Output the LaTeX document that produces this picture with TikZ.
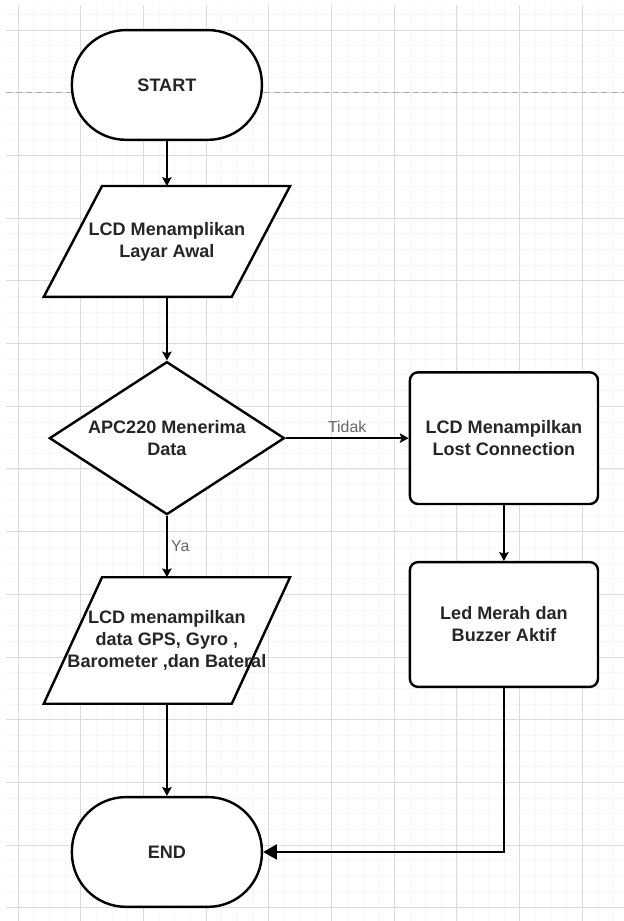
\documentclass[tikz,border=0pt]{standalone}
\usepackage{fontspec}
\setmainfont{Liberation Sans}
\usetikzlibrary{shapes.geometric,arrows.meta,backgrounds}

\newcommand\boxfont{\bfseries\fontsize{8.2}{10}\selectfont}

\tikzset{
  terminal/.style={draw, line width=1.1pt, fill=white, rounded corners=0.86cm,
    minimum width=3.03cm, minimum height=1.75cm, text=black!85, font=\boxfont},
  io/.style={minimum width=3.9cm, minimum height=#1, inner sep=0pt,
    align=center, text=black!85, font=\boxfont},
  decision/.style={draw, diamond, aspect=1.536, inner sep=0pt, line width=1.1pt,
    fill=white, minimum width=3.75cm, minimum height=2.44cm, align=center,
    text=black!85, font=\boxfont},
  process/.style={draw, rounded corners=0.13cm, line width=1.1pt, fill=white,
    minimum width=3cm, minimum height=#1, align=center, text=black!85, font=\boxfont},
  lbl/.style={text=black!60, font=\fontsize{7.2}{9}\selectfont},
  fl/.style={-{Stealth[length=1.4mm,width=1.5mm,inset=0.25mm]}}
}

\begin{document}
\begin{tikzpicture}[line width=0.8pt]
  \useasboundingbox (-0.287,0.478) rectangle (9.665,-14.211);
  % kertas berpetak
  \begin{scope}[on background layer]
    \draw[gray!6, line width=0.3pt, step=0.25] (-0.19,-14.211) grid (9.665,0.399);
    \draw[gray!28, line width=0.4pt, step=1] (-0.19,-14.211) grid (9.665,0.399);
    \draw[gray!65, line width=0.5pt, dash pattern=on 2.7pt off 1.8pt] (-0.19,-1) -- (9.665,-1);
  \end{scope}

  % kolom kiri
  \node[terminal] (start) at (2.375,-0.877) {START};
  \node[io=1.74cm] (lcdawal) at (2.375,-3.373) {LCD Menamplikan\\Layar Awal};
  \node[decision] (apc) at (2.375,-6.51) {APC220 Menerima\\Data};
  \node[io=1.99cm] (lcddata) at (2.375,-9.737) {LCD menampilkan\\data GPS, Gyro ,\\Barometer ,dan Bateral};
  \node[terminal] (finish) at (2.375,-13.11) {END};
  % kolom kanan
  \node[process=2.1cm] (lost) at (7.75,-6.51) {LCD Menampilkan\\Lost Connection};
  \node[process=1.99cm] (led) at (7.75,-9.482) {Led Merah dan\\Buzzer Aktif};

  % jajaran genjang input/output
  \begin{scope}[on background layer]
    \draw[line width=1.1pt, fill=white] (lcdawal.south west) -- ([xshift=-0.93cm]lcdawal.south east)
      -- (lcdawal.north east) -- ([xshift=0.93cm]lcdawal.north west) -- cycle;
    \draw[line width=1.1pt, fill=white] (lcddata.south west) -- ([xshift=-0.93cm]lcddata.south east)
      -- (lcddata.north east) -- ([xshift=0.93cm]lcddata.north west) -- cycle;
  \end{scope}

  % panah
  \draw[fl] (start) -- (lcdawal);
  \draw[fl] (lcdawal) -- (apc);
  \draw[fl] (apc) -- node[lbl, above, inner sep=2pt] {Tidak} (lost);
  \draw[fl] (apc) -- node[lbl, right, inner sep=1.5pt] {Ya} (lcddata);
  \draw[fl] (lost) -- (led);
  \draw[fl] (lcddata) -- (finish);
  \draw[-{Triangle[length=2.2mm,width=2.4mm]}] (led) |- (finish);
\end{tikzpicture}
\end{document}
